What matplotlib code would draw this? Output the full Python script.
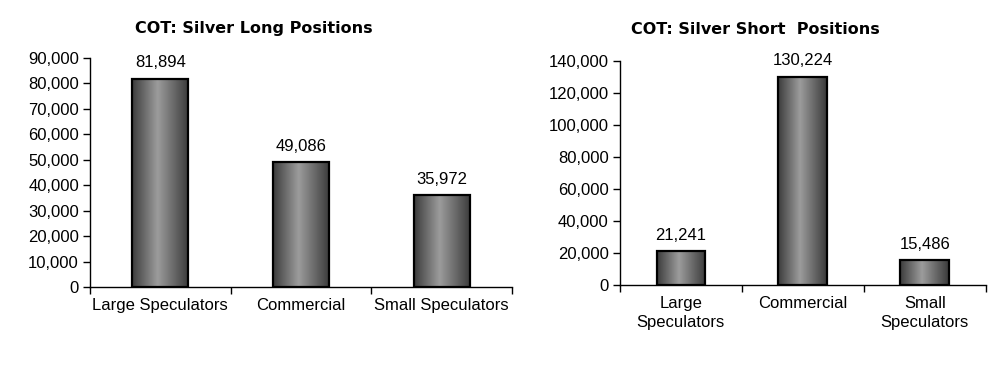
"""COT silver long/short positions, two gradient bar charts."""

import matplotlib

matplotlib.use("Agg")
import matplotlib.pyplot as plt
import numpy as np
from matplotlib.colors import LinearSegmentedColormap
from matplotlib.ticker import FuncFormatter, FixedLocator

long_labels = ["Large Speculators", "Commercial", "Small Speculators"]
long_values = [81894, 49086, 35972]
short_labels = ["Large\nSpeculators", "Commercial", "Small\nSpeculators"]
short_values = [21241, 130224, 15486]

plt.rcParams["font.family"] = ["Liberation Sans", "DejaVu Sans"]
FS = 12

# cylinder-like shading across each bar
shade = LinearSegmentedColormap.from_list(
    "shade", [(0.0, "#3c3c3c"), (0.45, "#9c9c9c"), (1.0, "#3a3a3a")]
)
grad = np.linspace(0, 1, 256).reshape(1, -1)


def draw(ax, labels, values, ymax, step):
    x = np.arange(len(values))
    bars = ax.bar(x, values, width=0.4, facecolor="none", edgecolor="black",
                  linewidth=1.6, zorder=3)
    for b in bars:
        bx, by, bw, bh = b.get_x(), b.get_y(), b.get_width(), b.get_height()
        im = ax.imshow(grad, extent=[bx, bx + bw, by, by + bh], aspect="auto",
                       cmap=shade, zorder=2, interpolation="bilinear")
        im.set_clip_path(b)
    for xi, v in zip(x, values):
        ax.annotate(f"{v:,}", (xi, v), xytext=(0, 6), textcoords="offset points",
                    ha="center", va="bottom", fontsize=FS)
    ax.set_xlim(-0.5, len(values) - 0.5)
    ax.set_ylim(0, ymax)
    ax.set_yticks(np.arange(0, ymax + 1, step))
    ax.yaxis.set_major_formatter(FuncFormatter(lambda v, p: f"{int(v):,}"))
    ax.set_xticks(x)
    ax.set_xticklabels(labels, linespacing=1.3)
    ax.xaxis.set_minor_locator(FixedLocator(np.arange(-0.5, len(values), 1.0)))
    ax.tick_params(axis="x", which="major", length=0, pad=8, labelsize=FS)
    ax.tick_params(axis="x", which="minor", length=5, width=1, direction="out")
    ax.tick_params(axis="y", length=5, width=1, direction="out", labelsize=FS, pad=3)
    for s in ("top", "right"):
        ax.spines[s].set_visible(False)
    ax.spines["left"].set_linewidth(1)
    ax.spines["bottom"].set_linewidth(1)


fig = plt.figure(figsize=(10.08, 3.82), dpi=100)
ax1 = fig.add_axes([0.0893, 0.2487, 0.4187, 0.5995])
ax2 = fig.add_axes([0.615, 0.254, 0.363, 0.586])

draw(ax1, long_labels, long_values, 90000, 10000)
draw(ax2, short_labels, short_values, 140000, 20000)

fig.text(254 / 1008, 1 - 29 / 382, "COT: Silver Long Positions", ha="center",
         va="center", fontsize=11.5, fontweight="bold", family="DejaVu Sans")
fig.text(755 / 1008, 1 - 29 / 382, "COT: Silver Short  Positions", ha="center",
         va="center", fontsize=11.5, fontweight="bold", family="DejaVu Sans")

fig.savefig("out.png", dpi=100)
plt.close(fig)
